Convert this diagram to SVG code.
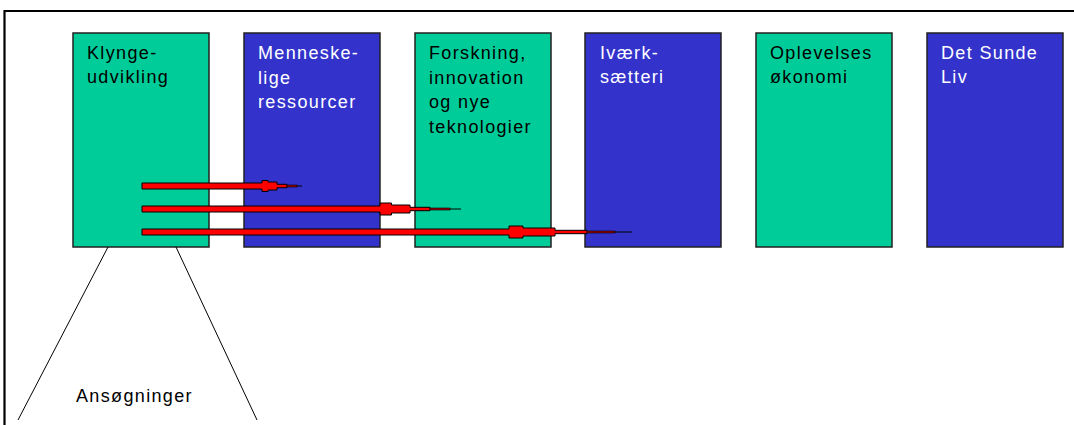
<svg xmlns="http://www.w3.org/2000/svg" width="1074" height="425" viewBox="0 0 1074 425">
<style>
.box{stroke:#222;stroke-width:1.5}
.g{fill:#00CC99}
.b{fill:#3333CC}
.t{font-family:"Liberation Sans",Arial,sans-serif;font-size:18px;letter-spacing:1.35px}
.dk{fill:#000}
.wh{fill:#fff}
.arr{fill:#ff0000;stroke:#000;stroke-width:1}
.tip{fill:#990000;stroke:#000;stroke-width:0.6}
.ln{stroke:#000;stroke-width:1;fill:none}
</style>
<rect x="0" y="0" width="1074" height="425" fill="#fff"/>
<path d="M4.5,425 V11 H1074" fill="none" stroke="#000" stroke-width="2.2"/>
<g id="n1"><rect class="box g" x="73" y="33" width="136" height="214"/><text class="t dk" x="87" y="59">Klynge-</text><text class="t dk" x="87" y="83">udvikling</text></g>
<g id="n2"><rect class="box b" x="244" y="33" width="136" height="214"/><text class="t wh" x="258" y="59">Menneske-</text><text class="t wh" x="258" y="83.5">lige</text><text class="t wh" x="258" y="108">ressourcer</text></g>
<g id="n3"><rect class="box g" x="415" y="33" width="136" height="214"/><text class="t dk" x="429" y="59">Forskning,</text><text class="t dk" x="429" y="83.5">innovation</text><text class="t dk" x="429" y="108">og nye</text><text class="t dk" x="429" y="132.5">teknologier</text></g>
<g id="n4"><rect class="box b" x="585" y="33" width="136" height="214"/><text class="t wh" x="600" y="59">Iværk-</text><text class="t wh" x="600" y="83">sætteri</text></g>
<g id="n5"><rect class="box g" x="756" y="33" width="136" height="214"/><text class="t dk" x="770" y="59">Oplevelses</text><text class="t dk" x="770" y="83">økonomi</text></g>
<g id="n6"><rect class="box b" x="927" y="33" width="136" height="214"/><text class="t wh" x="941" y="59">Det Sunde</text><text class="t wh" x="941" y="83">Liv</text></g>
<g id="ansoegninger"><line class="ln" x1="108" y1="247" x2="18" y2="420"/><line class="ln" x1="176" y1="247" x2="257" y2="420"/><text class="t dk" x="76" y="402">Ansøgninger</text></g>
<g id="connectors">
<path class="arr" d="M142,183 H262 V180.5 H268 V182 H277 V184.3 H287 V187.7 H277 V190 H268 V191.5 H262 V189 H142 Z"/>
<rect class="tip" x="287" y="185" width="10" height="2"/><line class="ln" x1="297" y1="186" x2="302" y2="186"/>
<path class="arr" d="M142,206 H380 V203 H391.5 V205 H410 V207.3 H430 V210.7 H410 V213 H391.5 V215 H380 V212 H142 Z"/>
<rect class="tip" x="430" y="208" width="20" height="2"/><line class="ln" x1="450" y1="209" x2="461" y2="209"/>
<path class="arr" d="M142,229 H509 V226 H523 V228 H555 V230.3 H587 V233.7 H555 V236 H523 V238 H509 V235 H142 Z"/>
<rect class="tip" x="587" y="231" width="28" height="2"/><line class="ln" x1="615" y1="232" x2="632" y2="232"/>
</g>
</svg>
